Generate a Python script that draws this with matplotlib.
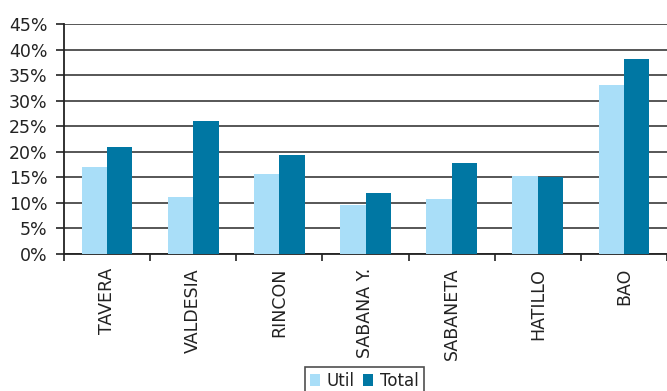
import matplotlib
matplotlib.use("Agg")
import matplotlib.pyplot as plt
import numpy as np
from matplotlib.ticker import FixedLocator, PercentFormatter

categories = ["TAVERA", "VALDESIA", "RINCON", "SABANA Y.", "SABANETA", "HATILLO", "BAO"]
util = [17.1, 11.2, 15.7, 9.6, 10.8, 15.3, 33.0]
total = [21.0, 26.1, 19.4, 12.0, 17.9, 15.1, 38.2]
yticks = [0, 5, 10, 15, 20, 25, 30, 35, 40, 45]

c_util = "#a9def8"
c_total = "#0077a3"

fig = plt.figure(figsize=(6.67, 3.91), dpi=100)
ax = fig.add_axes([64 / 667, 1 - 254 / 391, (667 - 64) / 667, 230 / 391])

x = np.arange(len(categories))
w = 0.295
ax.bar(x - w / 2, util, width=w, color=c_util, label="Util", zorder=3)
ax.bar(x + w / 2, total, width=w, color=c_total, label="Total", zorder=3)

ax.set_xlim(-0.5, len(categories) - 0.5)
ax.set_ylim(0, 45)
ax.set_yticks(yticks)
ax.yaxis.set_major_formatter(PercentFormatter(decimals=0))
ax.yaxis.grid(True, color="#3a3a3a", linewidth=1.2, zorder=0)
ax.set_axisbelow(True)

ax.set_xticks(x)
ax.set_xticklabels(categories, rotation=90, fontsize=12.5, color="#222222")
ax.xaxis.set_minor_locator(FixedLocator(np.arange(-0.5, len(categories) + 0.5, 1)))
ax.tick_params(axis="x", which="major", length=0, pad=10)
ax.tick_params(axis="x", which="minor", length=5, width=1.2, color="#222222")
ax.tick_params(axis="y", length=6, width=1.2, color="#222222", labelsize=12.5,
               labelcolor="#222222", pad=6)

for s in ("top", "right"):
    ax.spines[s].set_visible(False)
for s in ("left", "bottom"):
    ax.spines[s].set_color("#222222")
    ax.spines[s].set_linewidth(1.3)

leg = fig.legend(loc="upper center", bbox_to_anchor=(364.5 / 667, 1 - 367 / 391), ncol=2,
                 frameon=True, fancybox=False, edgecolor="#222222", fontsize=12,
                 handlelength=0.6, handleheight=0.7, handletextpad=0.4,
                 columnspacing=0.5, borderpad=0.3, borderaxespad=0)
leg.get_frame().set_linewidth(1.2)
for t in leg.get_texts():
    t.set_color("#222222")

fig.savefig("out.png", dpi=100)
